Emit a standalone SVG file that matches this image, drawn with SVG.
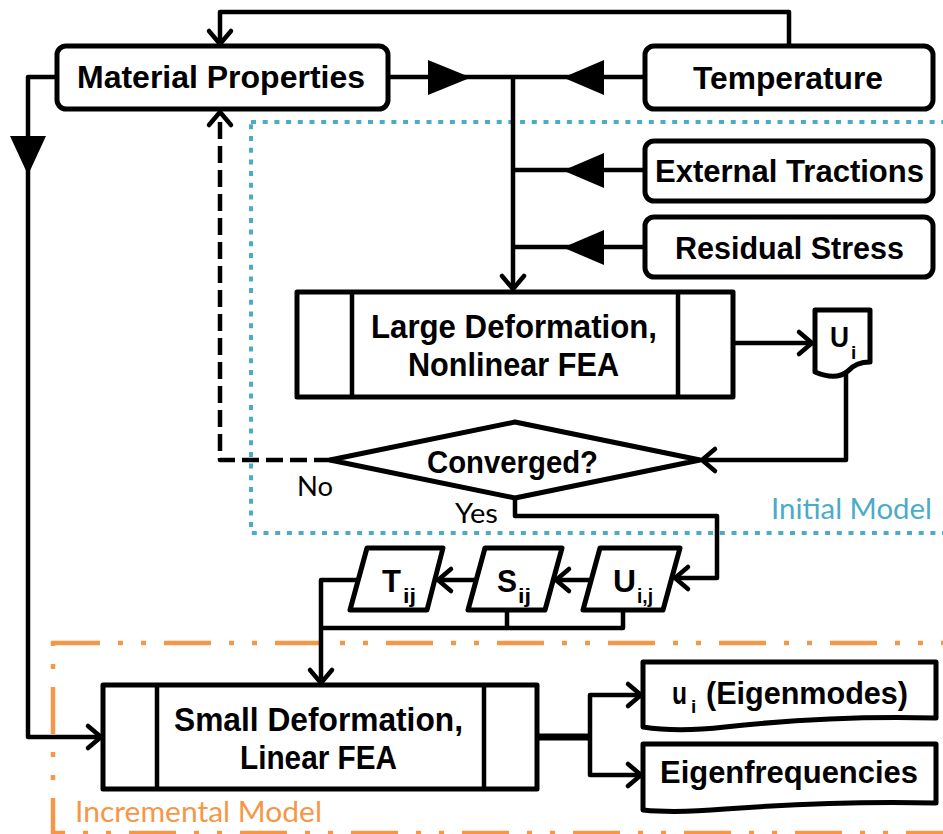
<svg xmlns="http://www.w3.org/2000/svg" width="943" height="834" viewBox="0 0 943 834">
<style>
.box{fill:#fff;stroke:#000;stroke-width:5;stroke-linejoin:round}
.ln{fill:none;stroke:#000;stroke-width:4.5;stroke-linejoin:round}
.b{font-family:"Liberation Sans",Arial,sans-serif;font-weight:bold;fill:#000}
.r{font-family:Lato,"Liberation Sans",sans-serif;fill:#000}
</style>
<defs>
<marker id="ch" markerUnits="userSpaceOnUse" markerWidth="30" markerHeight="30" viewBox="-20 -15 24 30" refX="0" refY="0" orient="auto">
<path d="M-13,-11 L0,0 L-13,11" fill="none" stroke="#000" stroke-width="4.5" stroke-linecap="round" stroke-linejoin="round"/>
</marker>
</defs>

<g id="initial-model-frame">
<rect x="251" y="122" width="710" height="411" fill="none" stroke="#4BACC6" stroke-width="4" stroke-dasharray="5 6.7"/>
<text class="r" x="771" y="519" font-size="28" style="fill:#4BACC6" textLength="161" lengthAdjust="spacingAndGlyphs">Initial Model</text>
</g>
<g id="incremental-model-frame">
<rect x="53" y="643" width="910" height="190" fill="none" stroke="#F79646" stroke-width="4.5" stroke-dasharray="47 18 5 18 5 18"/>
<text class="r" x="75" y="822" font-size="28" style="fill:#F79646" textLength="247" lengthAdjust="spacingAndGlyphs">Incremental Model</text>
</g>

<g id="connectors">
<path class="ln" d="M789,46 V12 H220 V44" marker-end="url(#ch)"/>
<path class="ln" d="M388,77 H513"/>
<polygon points="428,60 428,95 471,77.5" fill="#000"/>
<path class="ln" d="M645,77 H513"/>
<polygon points="604,60 604,95 563,77.5" fill="#000"/>
<path class="ln" d="M645,170 H513"/>
<polygon points="604,153 604,188 563,170.5" fill="#000"/>
<path class="ln" d="M645,247 H513"/>
<polygon points="604,230 604,265 563,247.5" fill="#000"/>
<path class="ln" d="M513,77 V289" marker-end="url(#ch)"/>
<path class="ln" d="M733,343 H812" marker-end="url(#ch)"/>
<path class="ln" d="M846,374 V460 H702" marker-end="url(#ch)"/>
<path class="ln" d="M331,460 H220 V112" stroke-dasharray="17 7" marker-end="url(#ch)"/>
<path class="ln" d="M515,498 V516 H717 V578 H675" marker-end="url(#ch)"/>
<path class="ln" d="M591,580 H556" marker-end="url(#ch)"/>
<path class="ln" d="M476,580 H438" marker-end="url(#ch)"/>
<path class="ln" d="M358,580 H321 V683" marker-end="url(#ch)"/>
<path class="ln" d="M507,610 V628 H623 V610"/>
<path class="ln" d="M321,628 H507"/>
<path class="ln" d="M57,77 H28 V737 H101" marker-end="url(#ch)"/>
<polygon points="10,136 46,136 28,175" fill="#000"/>
<path d="M537,737 H590" fill="none" stroke="#000" stroke-width="7"/>
<path class="ln" d="M590,737 V695 H641" marker-end="url(#ch)"/>
<path class="ln" d="M590,737 V775 H641" marker-end="url(#ch)"/>
</g>

<g id="material-properties">
<rect class="box" x="57" y="46" width="331" height="63" rx="9"/>
<text class="b" x="77" y="88" font-size="32" textLength="288" lengthAdjust="spacingAndGlyphs">Material Properties</text>
</g>
<g id="temperature">
<rect class="box" x="645" y="46" width="288" height="63" rx="9"/>
<text class="b" x="693" y="89" font-size="32" textLength="190" lengthAdjust="spacingAndGlyphs">Temperature</text>
</g>
<g id="external-tractions">
<rect class="box" x="645" y="141" width="288" height="60" rx="9"/>
<text class="b" x="655" y="182" font-size="32" textLength="269" lengthAdjust="spacingAndGlyphs">External Tractions</text>
</g>
<g id="residual-stress">
<rect class="box" x="645" y="217" width="288" height="60" rx="9"/>
<text class="b" x="675" y="259" font-size="32" textLength="229" lengthAdjust="spacingAndGlyphs">Residual Stress</text>
</g>
<g id="large-deformation">
<rect class="box" x="297" y="292" width="436" height="105"/>
<path class="ln" d="M352,292 V397 M678,292 V397"/>
<text class="b" x="371" y="338" font-size="33" textLength="286" lengthAdjust="spacingAndGlyphs">Large Deformation,</text>
<text class="b" x="408" y="376" font-size="33" textLength="211" lengthAdjust="spacingAndGlyphs">Nonlinear FEA</text>
</g>
<g id="u-i">
<path class="box" d="M815,310 H870 V362 Q856,362 848,371 Q836,381 815,372 Z"/>
<text class="b" x="830" y="347" font-size="30" textLength="19" lengthAdjust="spacingAndGlyphs">U</text>
<text class="b" x="851" y="359" font-size="19">i</text>
</g>
<g id="converged">
<polygon class="box" points="330,460 515,422 700,460 515,498"/>
<text class="b" x="427" y="473" font-size="32" textLength="171" lengthAdjust="spacingAndGlyphs">Converged?</text>
<text class="r" x="297" y="496" font-size="26" textLength="36" lengthAdjust="spacingAndGlyphs">No</text>
<text class="r" x="455" y="523" font-size="26" textLength="43" lengthAdjust="spacingAndGlyphs">Yes</text>
</g>
<g id="t-ij">
<polygon class="box" points="367,548 443,548 427,610 350,610"/>
<text class="b" x="382" y="592" font-size="32" textLength="19" lengthAdjust="spacingAndGlyphs">T</text>
<text class="b" x="403" y="603" font-size="20" textLength="13" lengthAdjust="spacingAndGlyphs">ij</text>
</g>
<g id="s-ij">
<polygon class="box" points="485,548 562,548 545,610 468,610"/>
<text class="b" x="497" y="592" font-size="32" textLength="20" lengthAdjust="spacingAndGlyphs">S</text>
<text class="b" x="518" y="603" font-size="20" textLength="13" lengthAdjust="spacingAndGlyphs">ij</text>
</g>
<g id="u-ij">
<polygon class="box" points="600,548 680,548 663,610 583,610"/>
<text class="b" x="613" y="592" font-size="32" textLength="23" lengthAdjust="spacingAndGlyphs">U</text>
<text class="b" x="637" y="603" font-size="20" textLength="16" lengthAdjust="spacingAndGlyphs">i,j</text>
</g>
<g id="small-deformation">
<rect class="box" x="103" y="685" width="434" height="104"/>
<path class="ln" d="M157,685 V789 M484,685 V789"/>
<text class="b" x="174" y="731" font-size="33" textLength="289" lengthAdjust="spacingAndGlyphs">Small Deformation,</text>
<text class="b" x="240" y="769" font-size="33" textLength="157" lengthAdjust="spacingAndGlyphs">Linear FEA</text>
</g>
<g id="eigenmodes">
<path class="box" d="M643,662 H936 V718 C860,716 780,721 725,727 C690,731 662,730 643,727 Z"/>
<text class="b" x="672" y="704" font-size="32" textLength="15" lengthAdjust="spacingAndGlyphs">u</text>
<text class="b" x="691" y="713" font-size="19">i</text>
<text class="b" x="706" y="704" font-size="32" textLength="202" lengthAdjust="spacingAndGlyphs">(Eigenmodes)</text>
</g>
<g id="eigenfrequencies">
<path class="box" d="M643,744 H936 V803 C860,801 780,805 725,809 C690,812 662,812 643,810 Z"/>
<text class="b" x="660" y="783" font-size="32" textLength="258" lengthAdjust="spacingAndGlyphs">Eigenfrequencies</text>
</g>
</svg>
